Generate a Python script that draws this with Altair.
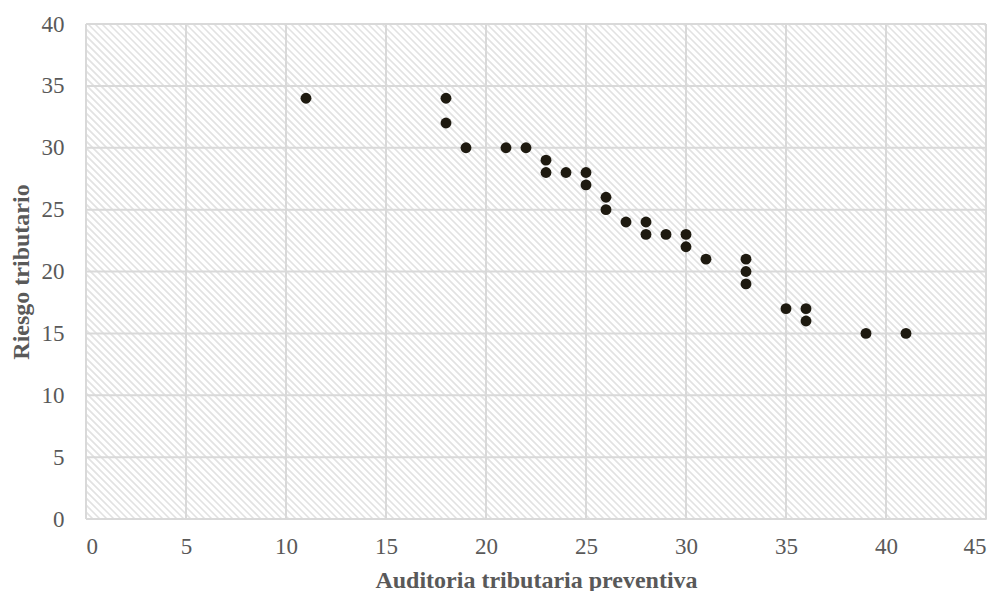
import altair as alt
import numpy as np
import pandas as pd

# Data
x_vals = [11, 18, 18, 19, 21, 22, 23, 23, 24, 25, 25, 26, 26, 27, 28, 28, 29, 30, 30, 31, 33, 33, 33, 35, 36, 36, 39, 41]
y_vals = [34, 34, 32, 30, 30, 30, 29, 28, 28, 28, 27, 26, 25, 24, 24, 23, 23, 23, 22, 21, 21, 20, 19, 17, 17, 16, 15, 15]
x_ticks = [0, 5, 10, 15, 20, 25, 30, 35, 40, 45]
y_ticks = [0, 5, 10, 15, 20, 25, 30, 35, 40]

W, H = 900, 495
XMAX, YMAX = 45, 40
FONT = "Liberation Serif"
TXT = "#595959"

pts = pd.DataFrame({"x": x_vals, "y": y_vals})

# background hatch (decoration): 45-degree "\" lines, ~7px apart
slope_run = YMAX * (H / YMAX) / (W / XMAX)
step = 7 / (W / XMAX)
starts = np.arange(-slope_run, XMAX + step, step)
hatch = pd.DataFrame({"x": starts, "y": YMAX, "x2": starts + slope_run, "y2": 0})

xs = alt.Scale(domain=[0, XMAX], nice=False)
ys = alt.Scale(domain=[0, YMAX], nice=False)

hatch_layer = alt.Chart(hatch).mark_rule(color="#e2e2e2", strokeWidth=1.6, clip=True).encode(
    x=alt.X("x:Q", scale=xs,
            axis=alt.Axis(values=x_ticks, title="Auditoria tributaria preventiva", grid=False, domain=False,
                          ticks=False, labelPadding=16, labelFontSize=23, labelFont=FONT, labelColor=TXT,
                          titleFont=FONT, titleFontSize=24, titleFontWeight="bold", titleColor=TXT,
                          titleY=61, titleBaseline="middle")),
    y=alt.Y("y:Q", scale=ys,
            axis=alt.Axis(values=y_ticks, title="Riesgo tributario", grid=False, domain=False,
                          ticks=False, labelPadding=22, labelFontSize=23, labelFont=FONT, labelColor=TXT,
                          titleFont=FONT, titleFontSize=24, titleFontWeight="bold", titleColor=TXT,
                          titleX=-65, titleY=H / 2, titleBaseline="middle")),
    x2="x2:Q",
    y2="y2:Q",
)

vgrid = alt.Chart(pd.DataFrame({"v": x_ticks})).mark_rule(color="#d9d9d9", strokeWidth=2).encode(
    x=alt.X("v:Q", scale=xs)
)
hgrid = alt.Chart(pd.DataFrame({"v": y_ticks})).mark_rule(color="#d9d9d9", strokeWidth=2).encode(
    y=alt.Y("v:Q", scale=ys)
)

points = alt.Chart(pts).mark_circle(size=118, color="#1e1a10", opacity=1).encode(
    x=alt.X("x:Q", scale=xs),
    y=alt.Y("y:Q", scale=ys),
)

chart = alt.layer(hatch_layer, vgrid, hgrid, points).properties(
    width=W, height=H,
    autosize=alt.AutoSizeParams(type="none"),
    padding={"left": 78, "top": 16, "right": 6, "bottom": 72},
).configure_view(stroke=None).configure(background="white")

chart.save("out.html", embed_options={"renderer": "svg", "actions": False})
